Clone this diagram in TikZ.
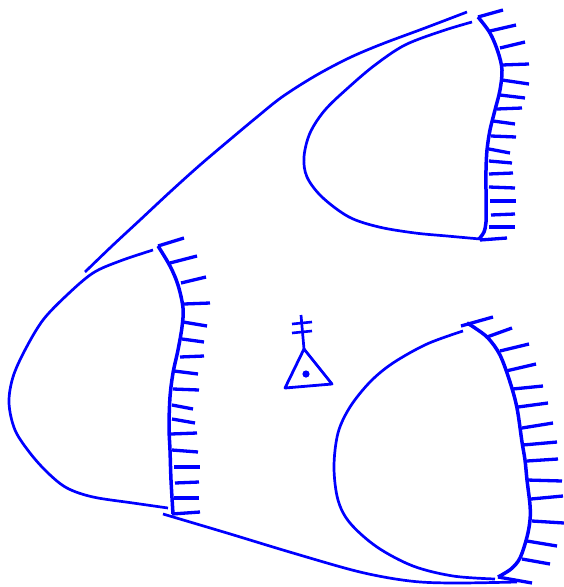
\documentclass[tikz,border=0pt]{standalone}
\definecolor{ink}{RGB}{0,0,255}
\tikzset{
  thinline/.style={draw=ink,line width=2.7pt,line cap=butt,line join=round},
  thickline/.style={draw=ink,line width=3.5pt,line cap=butt,line join=round},
  tickline/.style={draw=ink,line width=3.3pt},
  curve/.style={smooth,tension=.55}
}
\begin{document}
\begin{tikzpicture}[x=1pt,y=-1pt]
\useasboundingbox (0,0) rectangle (564,587);
% top right
\draw[thinline] plot[curve] coordinates {(467,12) (425,28) (382,44) (349,58) (315,76) (282,97) (257,117) (233,137) (200,165) (170,192) (140,220) (112,246) (85,272)};
\draw[thinline] plot[curve] coordinates {(472,22) (442,31) (405,45) (375,65) (349,87) (325,110) (310,133) (304,157) (307,177) (322,197) (349,217) (379,227) (415,233) (447,236) (480,239)};
\draw[thickline] plot[curve] coordinates {(478,17) (490,33) (498,52) (502,70) (500,90) (495,110) (490,130) (487,150) (486,170) (486,190) (486,210) (486,222) (484,232) (479,239)};
\foreach \a/\b/\c/\d in {478/17/503/10,490/31/516/25,500/48/525/42,502/65/529/64,502/80/529/84,500/95/525/98,497/109/522/108,493/121/515/124,491/136/516/137,489/149/510/153,489/161/512/163,489/174/513/173,489/187/515/188,490/201/516/201,491/215/515/214,489/227/515/227,480/240/507/238}
  \draw[tickline] (\a,\b) -- (\c,\d);
% left
\draw[thinline] plot[curve] coordinates {(153,250) (120,261) (93,273) (67,295) (43,320) (25,350) (13,377) (9,403) (15,430) (30,453) (48,473) (67,488) (93,497) (133,503) (168,508)};
\draw[thickline] plot[curve] coordinates {(158,246) (170,266) (178,285) (183,308) (182,327) (178,350) (173,373) (170,397) (169,427) (170,450) (171,480) (173,514)};
\foreach \a/\b/\c/\d in {158/246/184/238,170/263/197/256,181/283/206/277,184/304/210/303,183/322/207/326,182/339/204/342,180/357/204/356,174/371/198/374,173/389/199/390,172/405/193/409,172/419/195/423,171/434/197/433,172/450/198/452,174/467/200/467,175/483/199/482,174/498/199/498,172/514/200/512}
  \draw[tickline] (\a,\b) -- (\c,\d);
% triangle symbol
\coordinate (apex) at (304,349);
\coordinate (stemtop) at (301,315);
\draw[thinline] (stemtop) -- (apex);
\draw[thickline,line width=2.8pt] (apex) -- (285,388) -- (332,384) -- cycle;
\draw[tickline,line width=2.6pt] (292,324) -- (312,322);
\draw[tickline,line width=2.6pt] (292,333) -- (312,331);
\fill[ink] (306,374) circle (3.6);
% bottom right
\draw[thinline] plot[curve] coordinates {(463,331) (427,344) (393,363) (370,382) (350,407) (338,433) (334,467) (338,500) (350,523) (377,547) (413,566) (453,576) (495,579)};
\draw[thinline] plot[curve] coordinates {(163,514) (227,533) (293,553) (360,572) (410,581) (453,583) (517,582)};
\draw[thickline] plot[curve] coordinates {(467,323) (475,328) (488,338) (500,355) (510,382) (517,408) (522,442) (525,460) (527,480) (530,505) (530,520) (527,537) (520,558) (511,569) (498,577)};
\foreach \a/\b/\c/\d in {461/326/493/317,487/337/512/328,500/351/529/344,506/371/536/364,513/389/543/386,518/407/548/403,522/428/553/423,523/445/557/442,527/461/558/459,527/480/562/481,531/499/563/496,532/521/564/523,527/541/557/546,522/559/550/564,498/577/532/583}
  \draw[tickline] (\a,\b) -- (\c,\d);
\end{tikzpicture}
\end{document}
